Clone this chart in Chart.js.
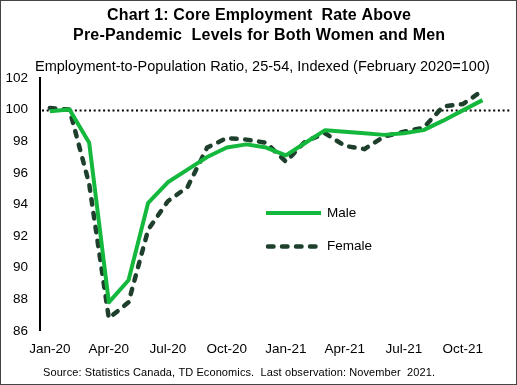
<!DOCTYPE html>
<html>
<head>
<meta charset="utf-8">
<script src="https://cdn.jsdelivr.net/npm/chart.js@4.4.0/dist/chart.umd.min.js"></script>
<style>
  html, body { margin: 0; padding: 0; background: #fff; }
  #wrap { position: relative; width: 517px; height: 385px; }
</style>
</head>
<body>
<div id="wrap"><canvas id="chart" width="517" height="385"></canvas></div>
<script>
'use strict';

const months = [
  'Jan-20', 'Feb-20', 'Mar-20', 'Apr-20', 'May-20', 'Jun-20',
  'Jul-20', 'Aug-20', 'Sep-20', 'Oct-20', 'Nov-20', 'Dec-20',
  'Jan-21', 'Feb-21', 'Mar-21', 'Apr-21', 'May-21', 'Jun-21',
  'Jul-21', 'Aug-21', 'Sep-21', 'Oct-21', 'Nov-21', 'Dec-21',
];
const male = [
  99.9, 100.0, 97.9, 87.8, 89.2, 94.1, 95.4, 96.2, 97.0, 97.6, 97.8, 97.6,
  97.1, 97.9, 98.7, 98.6, 98.5, 98.4, 98.5, 98.7, 99.3, 99.95, 100.6,
];
const female = [
  100.1, 100.0, 95.3, 86.8, 87.8, 92.4, 94.2, 95.1, 97.6, 98.2, 98.1, 97.9,
  96.7, 98.0, 98.5, 97.7, 97.5, 98.3, 98.6, 98.85, 100.2, 100.35, 101.2,
];
const yMin = 86, yMax = 102, yStep = 2;
const refLevel = 100;

const FONT = '"Liberation Sans", Arial, sans-serif';
const MALE_COLOR = '#14b83c';
const FEMALE_COLOR = '#1d3f2b';

const texts = {
  title1: 'Chart 1: Core Employment  Rate Above',
  title2: 'Pre-Pandemic  Levels for Both Women and Men',
  subtitle: 'Employment-to-Population Ratio, 25-54, Indexed (February 2020=100)',
  source: 'Source: Statistics Canada, TD Economics.  Last observation: November  2021.',
};

// dotted reference line at 100, drawn under the series
const refLine = {
  id: 'refLine',
  beforeDatasetsDraw(chart) {
    const { ctx, chartArea, scales } = chart;
    const y = Math.round(scales.y.getPixelForValue(refLevel)) + 0.5;
    ctx.save();
    ctx.strokeStyle = '#000';
    ctx.lineWidth = 2;
    ctx.setLineDash([2, 2.7]);
    ctx.beginPath();
    ctx.moveTo(chartArea.left + 2, y);
    ctx.lineTo(chartArea.right, y);
    ctx.stroke();
    ctx.restore();
  }
};

function fitText(ctx, str, x, y, width) {
  const w = ctx.measureText(str).width;
  ctx.letterSpacing = ((width - w) / (str.length - 1)).toFixed(2) + 'px';
  ctx.textAlign = 'left';
  ctx.fillText(str, x, y);
  ctx.letterSpacing = '0px';
}

const decor = {
  id: 'decor',
  afterDraw(chart) {
    const { ctx } = chart;
    ctx.save();
    ctx.fillStyle = '#000';
    ctx.textBaseline = 'middle';

    ctx.font = 'bold 16px ' + FONT;
    fitText(ctx, texts.title1, 107, 16, 304);
    fitText(ctx, texts.title2, 73, 36, 372);

    ctx.font = '14.5px ' + FONT;
    fitText(ctx, texts.subtitle, 35, 67, 455);

    ctx.font = '11px ' + FONT;
    fitText(ctx, texts.source, 43, 373, 392);

    // legend inside the plot
    const ds = chart.data.datasets;
    const rows = [213, 246.5];
    ctx.font = '13.5px ' + FONT;
    ds.forEach((d, i) => {
      ctx.save();
      ctx.strokeStyle = d.borderColor;
      ctx.lineWidth = d.borderWidth;
      ctx.lineCap = d.borderCapStyle || 'butt';
      ctx.setLineDash(d.borderDash || []);
      ctx.beginPath();
      const x0 = (d.borderDash && d.borderDash.length) ? 268 : 266;
      ctx.moveTo(x0, rows[i]);
      ctx.lineTo(321, rows[i]);
      ctx.stroke();
      ctx.restore();
      ctx.textAlign = 'left';
      ctx.fillText(d.label, 327, rows[i]);
    });

    // frame
    ctx.strokeStyle = '#444';
    ctx.lineWidth = 1;
    ctx.strokeRect(0.5, 0.5, chart.width - 1, chart.height - 1);
    ctx.restore();
  }
};

new Chart(document.getElementById('chart'), {
  type: 'line',
  data: {
    labels: months,
    datasets: [{
      label: 'Male',
      data: male,
      borderColor: MALE_COLOR,
      backgroundColor: MALE_COLOR,
      borderWidth: 4,
      pointRadius: 0,
      tension: 0,
      borderJoinStyle: 'round',
    }, {
      label: 'Female',
      data: female,
      borderColor: FEMALE_COLOR,
      backgroundColor: FEMALE_COLOR,
      borderWidth: 4.5,
      borderDash: [5.5, 8.5],
      borderCapStyle: 'round',
      pointRadius: 0,
      tension: 0,
    }]
  },
  options: {
    responsive: false,
    animation: false,
    devicePixelRatio: 1,
    layout: { padding: { top: 78, left: 0, right: 5, bottom: 18 } },
    plugins: {
      legend: { display: false },
      title: { display: false },
      tooltip: { enabled: false },
    },
    scales: {
      x: {
        type: 'category',
        offset: true,
        grid: { display: false, drawTicks: false },
        border: { display: false },
        ticks: {
          autoSkip: false,
          maxRotation: 0,
          padding: 10,
          color: '#000',
          font: { family: FONT, size: 13.5 },
          callback: (v, i) => (i % 3 === 0 ? months[i] : ''),
        },
      },
      y: {
        min: yMin,
        max: yMax,
        grid: { display: false, drawTicks: false },
        border: { display: true, color: '#000', width: 2 },
        afterFit: s => { s.width = 40; },
        ticks: {
          stepSize: yStep,
          padding: 12,
          color: '#000',
          font: { family: FONT, size: 13.5 },
        },
      },
    },
  },
  plugins: [refLine, decor],
});
</script>
</body>
</html>
